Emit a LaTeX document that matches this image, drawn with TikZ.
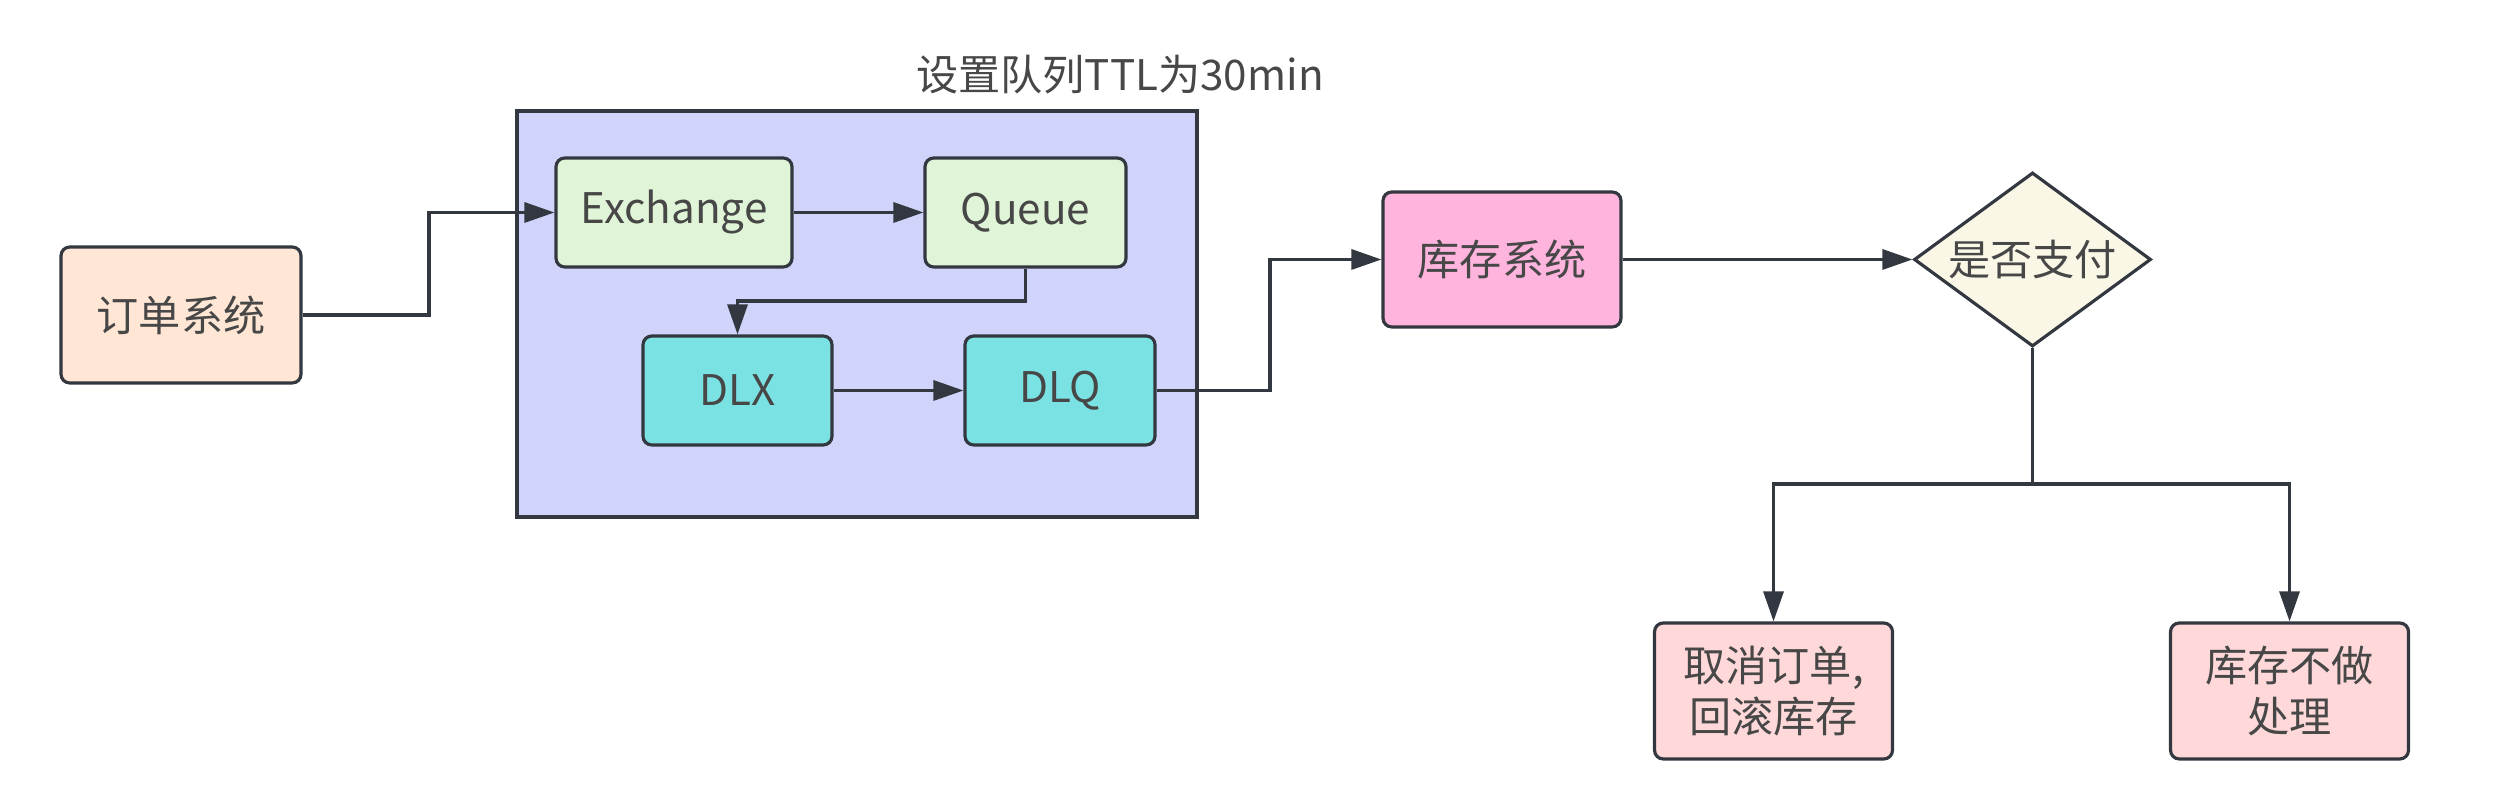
\documentclass[tikz,border=0pt]{standalone}
\usepackage{fontspec}
\setmainfont{Noto Sans CJK SC}
\usepackage{tikz}
\usetikzlibrary{shapes.geometric,arrows.meta,positioning,calc}

\definecolor{LineGray}{HTML}{333840}
\definecolor{TextGray}{HTML}{474747}
\definecolor{OrderFill}{HTML}{FFE6D5}
\definecolor{BoxFill}{HTML}{D0D4FA}
\definecolor{MqFill}{HTML}{E0F5D8}
\definecolor{DeadFill}{HTML}{7AE2E2}
\definecolor{StockFill}{HTML}{FEB4DC}
\definecolor{AskFill}{HTML}{FAF7E6}
\definecolor{EndFill}{HTML}{FFD9D9}

\begin{document}
\begin{tikzpicture}[font=\fontsize{12}{14.5}\selectfont, text=TextGray]
			\tikzstyle{Block}	= [rectangle, draw=LineGray, line width=0.9pt, rounded corners=2.5pt, minimum height=1.09cm, inner sep=0pt, align=center]
			\tikzstyle{Order}	= [Block, fill=OrderFill, minimum width=2.40cm, minimum height=1.36cm]
			\tikzstyle{Mq}		= [Block, fill=MqFill]
			\tikzstyle{Dead}	= [Block, fill=DeadFill]
			\tikzstyle{Stock}	= [Block, fill=StockFill, minimum width=2.38cm, minimum height=1.35cm]
			\tikzstyle{End}		= [Block, fill=EndFill, minimum width=2.38cm, minimum height=1.36cm]
			\tikzstyle{Ask}		= [diamond, aspect=1.36, draw=LineGray, line width=0.9pt, fill=AskFill, minimum width=2.37cm, minimum height=1.74cm, inner sep=0pt]
			\tikzstyle{Frame}	= [rectangle, draw=LineGray, line width=0.9pt, fill=BoxFill, minimum width=6.80cm, minimum height=4.06cm, inner sep=0pt]
			\tikzstyle{Link}	= [draw=LineGray, line width=0.9pt]
			\tikzstyle{Flow}	= [Link, -{Triangle[length=0.3cm, width=0.2cm]}]

			\useasboundingbox (0, 0) rectangle (25.04, 7.86);

			% queue with TTL
			\node (frame) at (8.57, 4.72) [Frame] {};
			\node (ttl) at (11.20, 7.11) {设置队列TTL为30min};
			\node (exch) at (6.74, 5.735) [Mq][minimum width=2.36cm] {Exchange};
			\node (queue) at (10.255, 5.735) [Mq][minimum width=2.01cm] {Queue};
			\node (dlx) at (7.375, 3.955) [Dead][minimum width=1.89cm] {DLX};
			\node (dlq) at (10.60, 3.955) [Dead][minimum width=1.90cm] {DLQ};

			% systems
			\node (order) at (1.81, 4.71) [Order] {订单系统};
			\node (stock) at (15.02, 5.265) [Stock] {库存系统};
			\node (pay) at (20.325, 5.265) [Ask] {是否支付};
			\node (cancel) at (17.735, 0.95) [End] {取消订单,\\回滚库存};
			\node (keep) at (22.895, 0.95) [End] {库存不做\\处理};

			\coordinate (bend1) at (4.29, 0);
			\coordinate (bend2) at (0, 4.85);
			\coordinate (bend3) at (12.70, 0);
			\coordinate (split) at (20.325, 3.02);

			\draw [Flow] (order.east) -- (order.east -| bend1) |- (exch.west);
			\draw [Flow] (exch) to (queue);
			\draw [Flow] (queue.south) |- (dlx.north |- bend2) -- (dlx.north);
			\draw [Flow] (dlx) to (dlq);
			\draw [Flow] (dlq.east) -- (dlq.east -| bend3) |- (stock.west);
			\draw [Flow] (stock) to (pay);

			\draw [Link] (pay.south) -- (split);
			\draw [Flow] (split) -| (cancel.north);
			\draw [Flow] (split) -| (keep.north);
		\end{tikzpicture}
\end{document}
